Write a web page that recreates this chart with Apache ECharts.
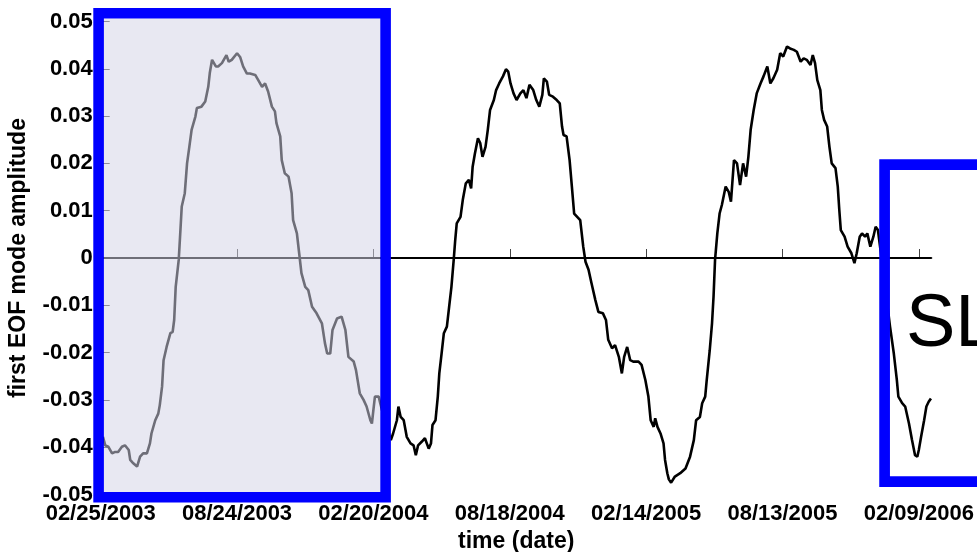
<!DOCTYPE html>
<html>
<head>
<meta charset="utf-8">
<script src="https://cdn.jsdelivr.net/npm/echarts@6/dist/echarts.min.js"></script>
<style>
  html, body { margin: 0; padding: 0; background: #ffffff; }
  #chart { width: 977px; height: 552px; }
</style>
</head>
<body>
<div id="chart"></div>
<script>
// Day offsets from 02/25/2003 for each sample of the amplitude series
const days = [
  3, 6, 10, 15, 19, 23, 28, 32, 37, 39, 43, 48, 52, 56, 61, 65, 67, 72, 76, 78,
  81, 83, 87, 92, 95, 97, 99, 103, 105, 107, 111, 114, 117, 120, 125, 127, 133, 138, 140, 142,
  144, 147, 149, 152, 155, 160, 166, 169, 173, 180, 184, 188, 193, 197, 204, 208, 213, 217, 221, 226,
  230, 232, 237, 239, 243, 248, 252, 254, 259, 262, 265, 270, 274, 279, 285, 292, 296, 299, 303, 306,
  312, 318, 323, 327, 334, 337, 342, 347, 351, 356, 358, 360, 362, 367, 369, 376, 383, 386, 391, 393,
  396, 400, 404, 409, 413, 416, 419, 424, 428, 433, 436, 438, 442, 445, 447, 450, 453, 457, 460, 463,
  466, 468, 470, 475, 478, 482, 486, 489, 491, 494, 498, 501, 504, 508, 511, 514, 519, 522, 526, 531,
  535, 538, 541, 545, 549, 554, 558, 562, 566, 571, 575, 579, 583, 585, 589, 592, 597, 602, 606, 609,
  611, 615, 619, 622, 625, 629, 633, 637, 640, 644, 648, 653, 657, 663, 667, 670, 675, 679, 684, 688,
  691, 695, 699, 703, 710, 714, 719, 723, 726, 730, 732, 735, 739, 743, 745, 748, 750, 753, 758, 765,
  772, 778, 783, 786, 791, 794, 798, 800, 804, 807, 809, 811, 814, 817, 820, 825, 829, 832, 836, 840,
  844, 848, 852, 855, 858, 862, 866, 871, 875, 880, 884, 888, 893, 897, 901, 906, 910, 915, 919, 924,
  928, 932, 937, 940, 943, 946, 950, 952, 955, 959, 962, 965, 970, 973, 975, 977, 982, 986, 991, 995,
  998, 1002, 1005, 1009, 1012, 1016, 1020, 1023, 1026, 1034, 1042, 1047, 1051, 1053, 1058, 1062, 1067, 1071, 1075, 1078,
  1080, 1083, 1087, 1090, 1093, 1096
];

// First EOF mode amplitude at each of the days above
const amplitude = [
  -0.0378, -0.0396, -0.0399, -0.0413, -0.0410, -0.0410, -0.0399, -0.0396, -0.0406, -0.0427,
  -0.0434, -0.0441, -0.0420, -0.0413, -0.0413, -0.0392, -0.0371, -0.0343, -0.0329, -0.0311,
  -0.0272, -0.0216, -0.0188, -0.0159, -0.0156, -0.0131, -0.0061, -0.0004, 0.0052, 0.0109,
  0.0137, 0.0200, 0.0235, 0.0271, 0.0299, 0.0317, 0.0320, 0.0331, 0.0334, 0.0362,
  0.0391, 0.0419, 0.0420, 0.0405, 0.0405, 0.0412, 0.0429, 0.0415, 0.0419, 0.0433,
  0.0425, 0.0405, 0.0390, 0.0390, 0.0387, 0.0376, 0.0362, 0.0369, 0.0352, 0.0320,
  0.0310, 0.0285, 0.0257, 0.0207, 0.0179, 0.0172, 0.0137, 0.0080, 0.0052, 0.0010,
  -0.0032, -0.0061, -0.0068, -0.0103, -0.0117, -0.0138, -0.0180, -0.0202, -0.0202, -0.0152,
  -0.0128, -0.0124, -0.0152, -0.0209, -0.0219, -0.0237, -0.0286, -0.0300, -0.0314, -0.0343,
  -0.0350, -0.0321, -0.0293, -0.0293, -0.0307, -0.0350, -0.0385, -0.0371, -0.0343, -0.0314,
  -0.0336, -0.0343, -0.0378, -0.0392, -0.0396, -0.0417, -0.0396, -0.0388, -0.0381, -0.0403,
  -0.0392, -0.0353, -0.0343, -0.0293, -0.0244, -0.0202, -0.0159, -0.0145, -0.0103, -0.0061,
  -0.0004, 0.0038, 0.0073, 0.0087, 0.0123, 0.0158, 0.0165, 0.0147, 0.0193, 0.0221,
  0.0253, 0.0243, 0.0214, 0.0235, 0.0271, 0.0313, 0.0334, 0.0355, 0.0369, 0.0384,
  0.0399, 0.0394, 0.0369, 0.0348, 0.0334, 0.0348, 0.0355, 0.0338, 0.0366, 0.0355,
  0.0334, 0.0320, 0.0345, 0.0380, 0.0373, 0.0345, 0.0341, 0.0334, 0.0327, 0.0278,
  0.0260, 0.0257, 0.0207, 0.0151, 0.0094, 0.0087, 0.0080, 0.0024, -0.0008, -0.0025,
  -0.0054, -0.0089, -0.0114, -0.0117, -0.0131, -0.0173, -0.0191, -0.0184, -0.0209, -0.0244,
  -0.0209, -0.0188, -0.0216, -0.0219, -0.0219, -0.0226, -0.0258, -0.0293, -0.0343, -0.0357,
  -0.0339, -0.0357, -0.0371, -0.0392, -0.0427, -0.0455, -0.0468, -0.0475, -0.0462, -0.0455,
  -0.0445, -0.0420, -0.0385, -0.0343, -0.0336, -0.0307, -0.0293, -0.0258, -0.0195, -0.0138,
  -0.0082, -0.0004, 0.0052, 0.0094, 0.0112, 0.0151, 0.0140, 0.0119, 0.0207, 0.0200,
  0.0154, 0.0200, 0.0172, 0.0214, 0.0271, 0.0313, 0.0348, 0.0369, 0.0384, 0.0405,
  0.0369, 0.0380, 0.0398, 0.0433, 0.0426, 0.0447, 0.0443, 0.0440, 0.0436, 0.0415,
  0.0422, 0.0419, 0.0408, 0.0429, 0.0412, 0.0376, 0.0355, 0.0313, 0.0292, 0.0278,
  0.0235, 0.0200, 0.0190, 0.0151, 0.0102, 0.0059, 0.0045, 0.0024, 0.0010, -0.0011,
  0.0010, 0.0045, 0.0052, 0.0045, 0.0052, 0.0024, 0.0045, 0.0066, 0.0059, -0.0040,
  -0.0145, -0.0202, -0.0258, -0.0293, -0.0307, -0.0314, -0.0350, -0.0385, -0.0417, -0.0420,
  -0.0406, -0.0378, -0.0343, -0.0314, -0.0304, -0.0297
];

// Date labels, one every 180 days starting at day 0
const tickLabels = [
  '02/25/2003', '08/24/2003', '02/20/2004', '08/18/2004',
  '02/14/2005', '08/13/2005', '02/09/2006'
];
const tickStep = 180;
const lastDay = 1097;

const seriesData = days.map((d, i) => [d, amplitude[i]]);
const tickDays = tickLabels.map((_, i) => i * tickStep);

const FONT = '"Liberation Sans", Arial, Helvetica, sans-serif';

const chart = echarts.init(document.getElementById('chart'), null, { renderer: 'canvas' });

chart.setOption({
  animation: false,
  backgroundColor: '#ffffff',
  grid: {
    left: 100.7, right: 45.3, top: 21.5, bottom: 57.5,
    containLabel: false,
    outerBoundsMode: 'none'
  },
  xAxis: {
    type: 'value',
    min: 0,
    max: lastDay,
    interval: tickStep,
    name: 'time (date)',
    nameLocation: 'middle',
    nameGap: 36,
    nameTextStyle: { fontFamily: FONT, fontWeight: 'bold', fontSize: 23, color: '#000' },
    axisLine: { show: true, lineStyle: { color: '#444', width: 1.5 } },
    axisTick: {
      show: true, inside: true, length: 9,
      customValues: tickDays,
      lineStyle: { color: '#444', width: 1 }
    },
    axisLabel: {
      margin: 8,
      customValues: tickDays,
      fontFamily: FONT, fontWeight: 'bold', fontSize: 22, color: '#000',
      formatter: v => tickLabels[Math.round(v / tickStep)] || ''
    },
    splitLine: { show: false }
  },
  yAxis: {
    type: 'value',
    min: -0.05,
    max: 0.05,
    interval: 0.01,
    name: 'first EOF mode amplitude',
    nameLocation: 'middle',
    nameGap: 71,
    nameRotate: 90,
    nameTextStyle: { fontFamily: FONT, fontWeight: 'bold', fontSize: 23, color: '#000' },
    axisLine: { show: true, lineStyle: { color: '#444', width: 1.5 } },
    axisTick: { show: true, inside: true, length: 9, lineStyle: { color: '#444', width: 1 } },
    axisLabel: {
      margin: 8,
      fontFamily: FONT, fontWeight: 'bold', fontSize: 22, color: '#000',
      formatter: v => {
        const r = Math.round(v * 100) / 100;
        return r === 0 ? '0' : r.toFixed(2);
      }
    },
    splitLine: { show: false }
  },
  series: [{
    type: 'line',
    data: seriesData,
    showSymbol: false,
    symbol: 'none',
    lineStyle: { color: '#000000', width: 2.6 },
    z: 3,
    markLine: {
      silent: true,
      symbol: 'none',
      label: { show: false },
      lineStyle: { color: '#000000', width: 2, type: 'solid' },
      data: [{ yAxis: 0 }]
    }
  }],
  graphic: [
    // translucent lavender shading over the first year
    {
      type: 'rect', z: 100, silent: true,
      shape: { x: 104, y: 18.5, width: 276.5, height: 474 },
      style: { fill: 'rgba(211,211,231,0.52)' }
    },
    // blue frame around the first year
    {
      type: 'rect', z: 101, silent: true,
      shape: { x: 98.6, y: 13.3, width: 287, height: 484 },
      style: { fill: 'none', stroke: '#0000ff', lineWidth: 10.6 }
    },
    // blue frame on the right edge
    {
      type: 'rect', z: 101, silent: true,
      shape: { x: 884.6, y: 164.7, width: 200, height: 317 },
      style: { fill: 'none', stroke: '#0000ff', lineWidth: 10.7 }
    },
    {
      type: 'text', z: 102, silent: true,
      x: 906, y: 326,
      style: {
        text: 'SL',
        font: '74px ' + FONT,
        fill: '#000000',
        align: 'left',
        verticalAlign: 'middle'
      }
    }
  ]
});
</script>
</body>
</html>
